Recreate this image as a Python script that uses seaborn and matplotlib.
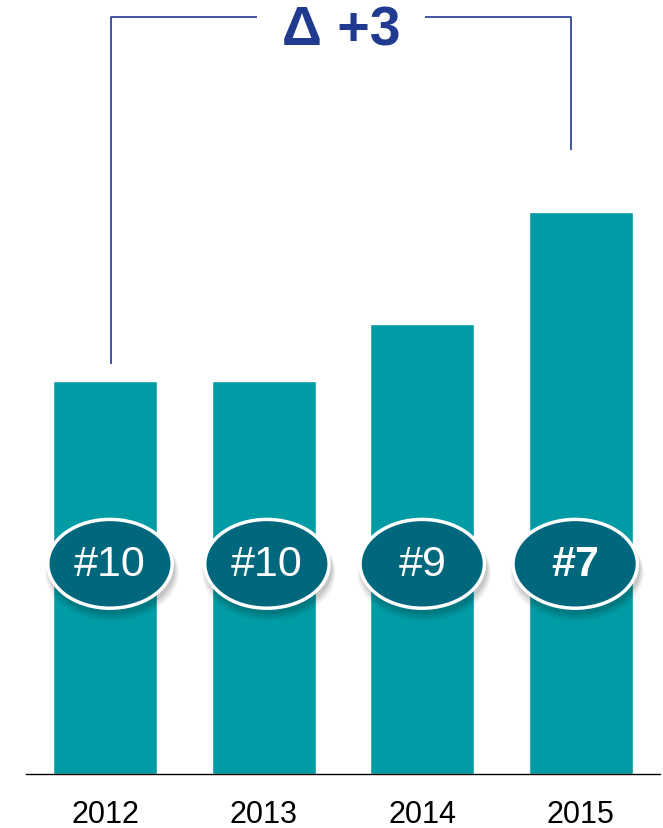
import matplotlib
matplotlib.use("Agg")
import matplotlib.pyplot as plt
import seaborn as sns
import pandas as pd
from matplotlib.patches import Ellipse

# data (bar heights relative, 2015 = 100)
years = ["2012", "2013", "2014", "2015"]
heights = [70, 70, 80, 100]
ranks = ["#10", "#10", "#9", "#7"]
delta_label = "Δ +3"

bar_color = "#009ca5"
badge_color = "#00677d"
bracket_color = "#1f3a8f"

sns.set_theme(style="white")
plt.rcParams["font.family"] = ["Liberation Sans", "DejaVu Sans"]

df = pd.DataFrame({"year": years, "value": heights})

fig = plt.figure(figsize=(6.63, 8.29), dpi=100)
ax = fig.add_axes([26 / 663, 54 / 829, 634 / 663, 775 / 829])

sns.barplot(data=df, x="year", y="value", color=bar_color, saturation=1,
            width=0.656, ax=ax, zorder=2)

ax.set_xlim(-0.5, 3.5)
ax.set_ylim(0, 137.9)
ax.set_xlabel("")
ax.set_ylabel("")
ax.set_yticks([])
sns.despine(ax=ax, left=True)
ax.spines["bottom"].set_color("black")
ax.spines["bottom"].set_linewidth(1.0)
ax.tick_params(axis="x", length=0, pad=18, labelsize=22, labelcolor="black")

# rank badges, nudged a little like in the original slide
badge_y = 37.4
nudge = [0.03, 0.02, 0.0, -0.035]
for i, r in enumerate(ranks):
    cx = i + nudge[i]
    for k, a in enumerate([0.10, 0.08, 0.06]):
        ax.add_patch(Ellipse((cx + 0.012, badge_y - 1.0 - 0.3 * k), 0.80 + 0.02 * k, 16.0 + 0.5 * k,
                             facecolor="black", edgecolor="none", alpha=a, zorder=3))
    ax.add_patch(Ellipse((cx, badge_y), 0.785, 15.8, facecolor=badge_color,
                         edgecolor="white", linewidth=2.5, zorder=4))
    ax.text(cx, badge_y, r, ha="center", va="center", color="white", fontsize=31,
            fontweight="bold" if i == len(ranks) - 1 else "normal", zorder=5)

# bracket from 2012 to 2015
top_y = 134.7
x_left, x_right = 0.038, 2.94
ax.plot([x_left, x_left, 0.96], [heights[0] + 3, top_y, top_y], color=bracket_color,
        lw=1.2, solid_capstyle="butt", clip_on=False, zorder=2)
ax.plot([2.02, x_right, x_right], [top_y, top_y, heights[-1] + 11], color=bracket_color,
        lw=1.2, solid_capstyle="butt", clip_on=False, zorder=2)
ax.text(1.49, 132.3, delta_label, ha="center", va="center", color=bracket_color,
        fontsize=40, fontweight="bold")

fig.savefig("out.png", dpi=100)
